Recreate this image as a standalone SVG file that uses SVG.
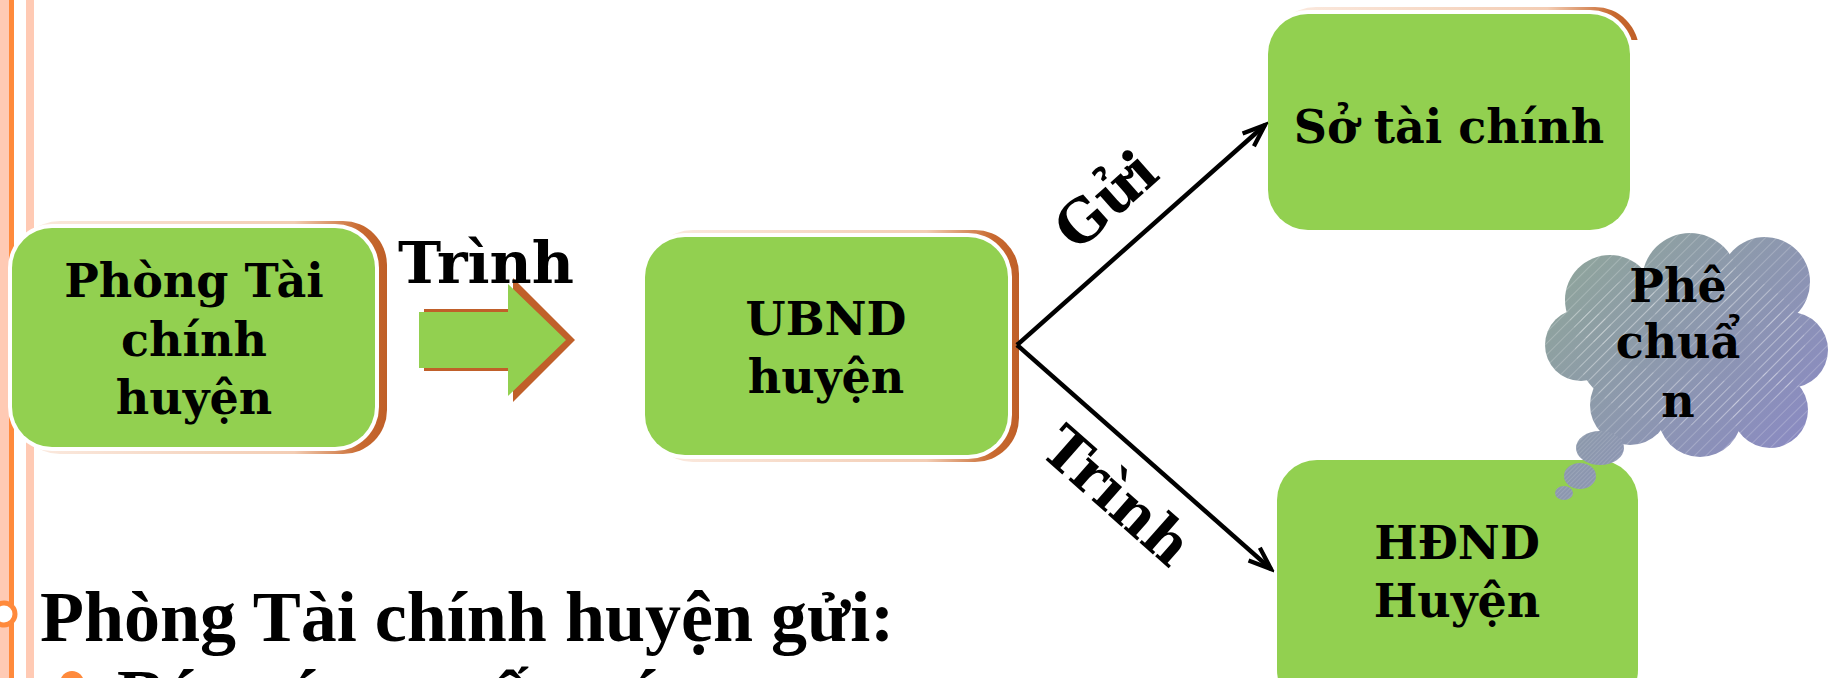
<svg xmlns="http://www.w3.org/2000/svg" width="1828" height="678" viewBox="0 0 1828 678">
<style>
.node{font-family:"DejaVu Serif","Liberation Serif",serif;font-weight:bold;font-size:46px;fill:#000;text-anchor:middle}
.lbl{font-family:"DejaVu Serif","Liberation Serif",serif;font-weight:bold;font-size:58px;fill:#000;text-anchor:middle}
.body{font-family:"Liberation Serif","Times New Roman",serif;font-weight:bold;font-size:72px;fill:#000}
.green{fill:#92D050}
.white{fill:#FFFFFF}
.conn{stroke:#000;stroke-width:4.5;fill:none}
</style>
<defs>
<linearGradient id="shadow" x1="0" y1="0" x2="1" y2="0">
<stop offset="0" stop-color="#FBEBE1"/>
<stop offset="0.75" stop-color="#F3CDB4"/>
<stop offset="0.93" stop-color="#C8692F"/>
<stop offset="1" stop-color="#BF5F28"/>
</linearGradient>
<linearGradient id="cloudGrad" gradientUnits="userSpaceOnUse" x1="1560" y1="240" x2="1800" y2="450">
<stop offset="0" stop-color="#8FA699"/>
<stop offset="1" stop-color="#8A8AC2"/>
</linearGradient>
<pattern id="hatch" width="8" height="8" patternUnits="userSpaceOnUse" patternTransform="rotate(45)">
<line x1="0" y1="0" x2="0" y2="8" stroke="#FFFFFF" stroke-opacity="0.35" stroke-width="1.2"/>
</pattern>
<pattern id="hatchFine" width="3" height="3" patternUnits="userSpaceOnUse" patternTransform="rotate(45)">
<line x1="0" y1="0" x2="0" y2="3" stroke="#FFFFFF" stroke-opacity="0.3" stroke-width="0.8"/>
</pattern>
<marker id="openArrow" markerUnits="userSpaceOnUse" markerWidth="32" markerHeight="32" viewBox="-26 -13 30 26" refX="0" refY="0" orient="auto">
<path d="M -21 -8 L 0 0 L -21 8" fill="none" stroke="#000" stroke-width="4"/>
</marker>
<clipPath id="topClip"><rect x="1200" y="0" width="500" height="40"/></clipPath>
<g id="cloudShape">
<circle cx="1610" cy="300" r="45"/>
<circle cx="1690" cy="281" r="48"/>
<circle cx="1765" cy="282" r="45"/>
<circle cx="1790" cy="350" r="38"/>
<circle cx="1770" cy="410" r="38"/>
<circle cx="1700" cy="415" r="42"/>
<circle cx="1630" cy="405" r="40"/>
<circle cx="1581" cy="345" r="36"/>
<ellipse cx="1690" cy="345" rx="115" ry="80"/>
</g>
<g id="bubbles">
<ellipse cx="1600" cy="448" rx="24" ry="17"/>
<ellipse cx="1580" cy="476" rx="16" ry="13"/>
<ellipse cx="1564" cy="493" rx="9" ry="7"/>
</g>
</defs>

<g id="border">
<rect x="0" y="0" width="9" height="678" fill="#FFCAB4"/>
<rect x="9" y="0" width="5" height="678" fill="#FF8A3C"/>
<rect x="26" y="0" width="8" height="678" fill="#FFCAB4"/>
<circle cx="4" cy="614" r="11" fill="#FFFFFF" stroke="#FF8A3C" stroke-width="5"/>
</g>

<g id="node-phong">
<rect x="16" y="221" width="371" height="233" rx="44" fill="url(#shadow)"/>
<rect class="white" x="8" y="224" width="371" height="227" rx="44"/>
<rect class="green" x="12" y="228" width="363" height="219" rx="40"/>
<text class="node" x="194" y="297">Phòng Tài</text>
<text class="node" x="194" y="356">chính</text>
<text class="node" x="194" y="414">huyện</text>
</g>

<g id="node-ubnd">
<rect x="649" y="230" width="370" height="232" rx="44" fill="url(#shadow)"/>
<rect class="white" x="641" y="233" width="371" height="226" rx="44"/>
<rect class="green" x="645" y="237" width="363" height="218" rx="40"/>
<text class="node" x="826" y="335">UBND</text>
<text class="node" x="826" y="393">huyện</text>
</g>

<g id="node-so">
<rect x="1272" y="7" width="367" height="231" rx="44" fill="url(#shadow)" clip-path="url(#topClip)"/>
<rect class="white" x="1264" y="10" width="370" height="224" rx="44"/>
<rect class="green" x="1268" y="14" width="362" height="216" rx="40"/>
<text class="node" x="1449" y="143">Sở tài chính</text>
</g>

<g id="node-hdnd">
<rect class="green" x="1277" y="460" width="361" height="250" rx="40"/>
<text class="node" x="1457" y="559">HĐND</text>
<text class="node" x="1457" y="617">Huyện</text>
</g>

<g id="node-pheChuan">
<use href="#cloudShape" fill="url(#cloudGrad)"/>
<use href="#cloudShape" fill="url(#hatch)"/>
<use href="#bubbles" fill="url(#cloudGrad)"/>
<use href="#bubbles" fill="url(#hatchFine)"/>
<text class="node" x="1678" y="302">Phê</text>
<text class="node" x="1678" y="358">chuẩ</text>
<text class="node" x="1678" y="417">n</text>
</g>

<g id="connectors">
<g id="block-arrow">
<polygon points="424,309 513,309 513,278 575,340 513,402 513,371 424,371" fill="#C0602A"/>
<polygon points="419,312 508,312 508,284 566,340 508,396 508,368 419,368" fill="#92D050"/>
<text class="lbl" x="486" y="283">Trình</text>
</g>
<line class="conn" x1="1017" y1="345" x2="1265" y2="125" marker-end="url(#openArrow)"/>
<line class="conn" x1="1017" y1="345" x2="1271" y2="569" marker-end="url(#openArrow)"/>
<text class="lbl" transform="translate(1106,200) rotate(-41.6)" y="20">Gửi</text>
<text class="lbl" transform="translate(1117,496) rotate(41.4)" y="20">Trình</text>
</g>

<g id="body-text">
<text class="body" x="40" y="641">Phòng Tài chính huyện gửi:</text>
<circle cx="72" cy="683" r="12" fill="#FF8A3C"/>
<text class="body" x="117" y="719">Báo cáo quyết toán</text>
</g>
</svg>
